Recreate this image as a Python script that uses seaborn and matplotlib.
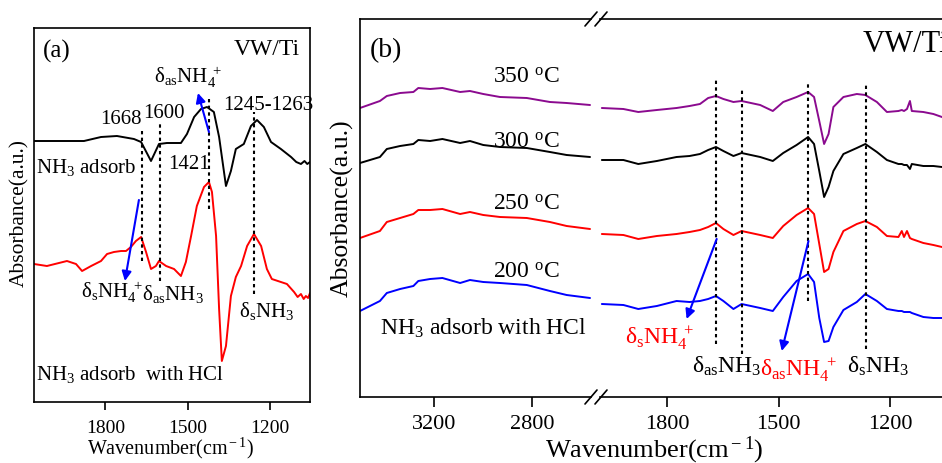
import matplotlib
matplotlib.use("Agg")
import matplotlib.pyplot as plt
import seaborn as sns
from matplotlib.lines import Line2D

# ---------------- panel (a): NH3 adsorption on VW/Ti, without / with HCl ----------------
wn_a_nh3 = [2060, 1987, 1878, 1816, 1758, 1696, 1670, 1634, 1605, 1576, 1525, 1503, 1477,
            1452, 1430, 1405, 1386, 1361, 1343, 1325, 1296, 1270, 1248, 1223, 1197, 1161,
            1124, 1105, 1088, 1075, 1065, 1055]
abs_a_nh3 = [2.61, 2.61, 2.61, 2.65, 2.66, 2.63, 2.60, 2.41, 2.58, 2.59, 2.59, 2.68, 2.85,
             2.93, 2.95, 2.90, 2.65, 2.16, 2.31, 2.53, 2.58, 2.76, 2.82, 2.75, 2.60, 2.53,
             2.45, 2.40, 2.38, 2.41, 2.38, 2.40]

wn_a_hcl = [2060, 2013, 1940, 1907, 1885, 1852, 1816, 1794, 1769, 1743, 1725, 1707, 1689,
            1670, 1652, 1634, 1616, 1605, 1579, 1550, 1525, 1507, 1488, 1467, 1441, 1423,
            1412, 1397, 1386, 1376, 1361, 1343, 1325, 1306, 1284, 1259, 1233, 1212, 1194,
            1161, 1139, 1113, 1100, 1088, 1078, 1070, 1062, 1055]
abs_a_hcl = [1.38, 1.36, 1.41, 1.38, 1.31, 1.36, 1.41, 1.48, 1.50, 1.51, 1.51, 1.55, 1.61,
             1.65, 1.50, 1.33, 1.36, 1.41, 1.36, 1.33, 1.26, 1.40, 1.66, 1.96, 2.15, 2.20,
             2.10, 1.66, 0.93, 0.41, 0.56, 1.06, 1.25, 1.36, 1.56, 1.68, 1.56, 1.33, 1.23,
             1.20, 1.18, 1.10, 1.05, 1.08, 1.03, 1.06, 1.04, 1.09]

peaks_a = [1668, 1600, 1421, 1258]
peaks_a_top = [2.73, 2.80, 3.06, 2.90]
peaks_a_bottom = [1.41, 1.21, 1.93, 1.08]

# ---------------- panel (b): NH3 + HCl at 200-350 C ----------------
temps = ["350", "300", "250", "200"]
colors_b = ["#8B0A8F", "black", "red", "blue"]

wn_b_high = [3500, 3419, 3391, 3337, 3283, 3263, 3215, 3165, 3093, 3053, 2999, 2931, 2822,
             2728, 2660, 2565]
high_350 = [2.89, 2.96, 3.01, 3.04, 3.05, 3.09, 3.08, 3.09, 3.05, 3.06, 3.03, 3.00, 2.99,
            2.95, 2.94, 2.92]
high_300 = [2.34, 2.40, 2.48, 2.51, 2.53, 2.57, 2.56, 2.58, 2.54, 2.56, 2.52, 2.50, 2.49,
            2.45, 2.42, 2.40]
high_250 = [1.59, 1.66, 1.75, 1.79, 1.83, 1.87, 1.87, 1.88, 1.83, 1.85, 1.82, 1.80, 1.79,
            1.75, 1.71, 1.68]
high_200 = [0.86, 0.96, 1.04, 1.08, 1.11, 1.16, 1.18, 1.19, 1.14, 1.17, 1.15, 1.14, 1.12,
            1.06, 1.02, 0.99]

wn_b_low = [1976, 1918, 1878, 1828, 1775, 1740, 1712, 1690, 1669, 1649, 1622, 1600, 1550,
            1516, 1488, 1452, 1421, 1405, 1391, 1378, 1366, 1353, 1326, 1290, 1267, 1236,
            1209, 1178, 1169, 1163, 1155, 1147, 1142, 1111, 1084, 1061, 1050]
low_350 = [2.89, 2.88, 2.85, 2.87, 2.89, 2.91, 2.93, 2.99, 3.01, 2.98, 2.95, 2.96, 2.92,
           2.86, 2.95, 3.00, 3.05, 3.00, 2.76, 2.53, 2.63, 2.90, 3.00, 3.03, 3.02, 2.95,
           2.85, 2.86, 2.87, 2.86, 2.88, 2.96, 2.86, 2.85, 2.83, 2.80, 2.78]
low_300 = [2.37, 2.37, 2.33, 2.36, 2.40, 2.41, 2.43, 2.47, 2.50, 2.46, 2.41, 2.44, 2.40,
           2.36, 2.44, 2.52, 2.60, 2.53, 2.26, 2.00, 2.10, 2.26, 2.43, 2.49, 2.53, 2.45,
           2.37, 2.33, 2.33, 2.32, 2.32, 2.28, 2.33, 2.31, 2.31, 2.30, 2.29]
low_250 = [1.63, 1.62, 1.58, 1.61, 1.63, 1.65, 1.67, 1.70, 1.74, 1.68, 1.62, 1.66, 1.62,
           1.59, 1.71, 1.82, 1.89, 1.83, 1.53, 1.25, 1.28, 1.45, 1.66, 1.73, 1.76, 1.70,
           1.61, 1.60, 1.66, 1.60, 1.66, 1.59, 1.58, 1.54, 1.52, 1.50, 1.49]
low_200 = [0.93, 0.92, 0.88, 0.91, 0.96, 0.95, 0.96, 0.98, 1.01, 0.96, 0.88, 0.93, 0.89,
           0.86, 1.00, 1.16, 1.23, 1.15, 0.79, 0.55, 0.56, 0.70, 0.87, 0.95, 1.03, 0.96,
           0.88, 0.86, 0.86, 0.85, 0.85, 0.85, 0.84, 0.80, 0.79, 0.79, 0.79]

peaks_b = [1668, 1600, 1421, 1266]
peaks_b_top = [3.18, 3.08, 3.13, 3.13]
peaks_b_bottom = [0.53, 0.43, 0.96, 0.48]

sns.set_style("ticks")
plt.rcParams["font.family"] = ["Liberation Serif", "DejaVu Serif"]
plt.rcParams["mathtext.fontset"] = "custom"
plt.rcParams["mathtext.rm"] = "Liberation Serif"
plt.rcParams["mathtext.it"] = "Liberation Serif:italic"
plt.rcParams["axes.linewidth"] = 1.2
plt.rcParams["axes.edgecolor"] = "black"
plt.rcParams["xtick.color"] = "black"
plt.rcParams["text.color"] = "black"

W, H = 942, 464
fig = plt.figure(figsize=(W / 100, H / 100), dpi=100)


def px_box(x0, y0, x1, y1):
    # pixel box (top-left origin) -> figure fraction rect
    return [x0 / W, 1 - y1 / H, (x1 - x0) / W, (y1 - y0) / H]


def spectrum(ax, x, y, color):
    sns.lineplot(x=x, y=y, ax=ax, color=color, lw=1.4, sort=False, estimator=None)


def dotted(ax, xs, tops, bottoms):
    for x, t, b in zip(xs, tops, bottoms):
        ax.plot([x, x], [b, t], color="black", lw=1.5, ls=(0, (1.6, 1.6)))


def arrow(ax, tail, head):
    ax.annotate("", xy=head, xytext=tail,
                arrowprops=dict(arrowstyle="-|>", color="blue", lw=1.5,
                                mutation_scale=14, shrinkA=0, shrinkB=0))


# ---- panel (a)
ax_a = fig.add_axes(px_box(34, 29, 310, 403))
spectrum(ax_a, wn_a_nh3, abs_a_nh3, "black")
spectrum(ax_a, wn_a_hcl, abs_a_hcl, "red")
dotted(ax_a, peaks_a, peaks_a_top, peaks_a_bottom)
arrow(ax_a, (1423, 2.70), (1463, 3.09))
arrow(ax_a, (1678, 2.02), (1729, 1.21))
ax_a.set_xlim(2060, 1055)
ax_a.set_ylim(0, 3.74)
ax_a.set_xticks([1800, 1500, 1200])
ax_a.set_yticks([])
ax_a.tick_params(axis="x", length=6, width=1.2, labelsize=14, pad=6)

fs_a = 15
ax_a.text(2027, 3.45, "(a)", fontsize=18)
ax_a.text(1091, 3.48, "VW/Ti", fontsize=17, ha="right")
ax_a.text(1623, 3.20, "δ$_{\\rm as}$NH$_4^{\\ +}$", fontsize=fs_a)
ax_a.text(1743, 2.79, "1668", fontsize=fs_a, ha="center")
ax_a.text(1587, 2.85, "1600", fontsize=fs_a, ha="center")
ax_a.text(1206, 2.93, "1245-1263", fontsize=fs_a, ha="center")
ax_a.text(1496, 2.34, "1421", fontsize=fs_a, ha="center")
ax_a.text(2053, 2.30, "NH$_3$ adsorb", fontsize=fs_a)
ax_a.text(1889, 1.05, "δ$_{\\rm s}$NH$_4^{\\ +}$", fontsize=fs_a)
ax_a.text(1667, 1.03, "δ$_{\\rm as}$NH$_3$", fontsize=fs_a)
ax_a.text(1314, 0.86, "δ$_{\\rm s}$NH$_3$", fontsize=fs_a)
ax_a.text(2053, 0.23, "NH$_3$ adsorb  with HCl", fontsize=fs_a)

fig.text(171 / W, 1 - 448 / H, "Wavenumber(cm$^{\\rm -1}$)", fontsize=14.5,
         ha="center", va="center")
fig.text(20 / W, 1 - 213 / H, "Absorbance(a.u.)", fontsize=15.5, rotation=90,
         ha="center", va="center")

# ---- panel (b), broken x axis
ax_bl = fig.add_axes(px_box(360, 20, 591, 398))
ax_br = fig.add_axes(px_box(600, 20, 946, 398))
high_sets = [high_350, high_300, high_250, high_200]
low_sets = [low_350, low_300, low_250, low_200]
for hi, lo, c in zip(high_sets, low_sets, colors_b):
    spectrum(ax_bl, wn_b_high, hi, c)
    spectrum(ax_br, wn_b_low, lo, c)
dotted(ax_br, peaks_b, peaks_b_top, peaks_b_bottom)
arrow(ax_br, (1667, 1.58), (1748, 0.78))
arrow(ax_br, (1420, 1.56), (1492, 0.46))

ax_bl.set_xlim(3500, 2561)
ax_br.set_xlim(1981, 1050)
ax_bl.set_xticks([3200, 2800])
ax_br.set_xticks([1800, 1500, 1200])
for ax in (ax_bl, ax_br):
    ax.set_ylim(0, 3.78)
    ax.set_yticks([])
    ax.tick_params(axis="x", length=7, width=1.2, labelsize=16, pad=5)
ax_bl.spines["right"].set_visible(False)
ax_br.spines["left"].set_visible(False)

fs_b = 17
ax_bl.text(3459, 3.41, "(b)", fontsize=20)
temp_y = [3.15, 2.50, 1.88, 1.20]
for t, y in zip(temps, temp_y):
    ax_bl.text(2959, y, t + " $^{\\rm o}$C", fontsize=fs_b)
ax_bl.text(3419, 0.63, "NH$_3$ adsorb with HCl", fontsize=fs_b)

ax_br.text(1273, 3.46, "VW/Ti", fontsize=22)
ax_br.text(1914, 0.53, "δ$_{\\rm s}$NH$_4^{\\ +}$", fontsize=fs_b, color="red")
ax_br.text(1733, 0.25, "δ$_{\\rm as}$NH$_3$", fontsize=fs_b)
ax_br.text(1550, 0.21, "δ$_{\\rm as}$NH$_4^{\\ +}$", fontsize=fs_b, color="red")
ax_br.text(1316, 0.25, "δ$_{\\rm s}$NH$_3$", fontsize=fs_b)

fig.text(654 / W, 1 - 450 / H, "Wavenumber(cm$^{\\rm -1}$)", fontsize=19,
         ha="center", va="center")
fig.text(342 / W, 1 - 208 / H, "Absorbance(a.u.)", fontsize=18.5, rotation=90,
         ha="center", va="center")

# break marks
for yb in (20, 398):
    for xb in (591, 601):
        fig.add_artist(Line2D([(xb - 6) / W, (xb + 6) / W],
                              [1 - (yb + 7) / H, 1 - (yb - 7) / H],
                              color="black", lw=1.2))

fig.savefig("out.png", dpi=100)
